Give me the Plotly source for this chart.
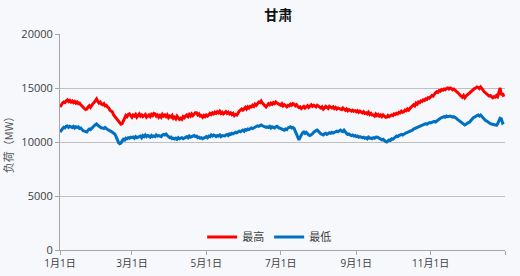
import plotly.graph_objects as go
import pandas as pd

start_date = "2023-01-01"

max_load = [
    13240, 13450, 13600, 13700, 13650, 13800, 13900, 13750, 13850, 13700,
    13800, 13650, 13750, 13600, 13700, 13550, 13600, 13450, 13300, 13200,
    13100, 13000, 13050, 13250, 13350, 13200, 13400, 13550, 13650, 13800,
    13980, 13750, 13600, 13700, 13500, 13450, 13550, 13350, 13400, 13240,
    13150, 12950, 12850, 12780, 12500, 12350, 12200, 12000, 11850, 11760,
    11650, 11700, 11950, 12300, 12450, 12350, 12550, 12600, 12450, 12300,
    12500, 12400, 12550, 12300, 12450, 12600, 12400, 12500, 12350, 12450,
    12550, 12300, 12400, 12500, 12350, 12550, 12450, 12650, 12600, 12400,
    12500, 12300, 12450, 12300, 12550, 12400, 12500, 12350, 12500, 12250,
    12400, 12300, 12450, 12200, 12300, 12150, 12400, 12250, 12100, 12200,
    12100, 12350, 12250, 12400, 12500, 12350, 12550, 12400, 12600, 12450,
    12550, 12700, 12700, 12500, 12600, 12400, 12450, 12300, 12450, 12350,
    12500, 12400, 12500, 12650, 12550, 12700, 12600, 12750, 12650, 12800,
    12700, 12850, 12650, 12750, 12600, 12700, 12800, 12650, 12750, 12600,
    12700, 12550, 12650, 12450, 12550, 12500, 12700, 12850, 12950, 13050,
    12950, 13100, 13200, 13050, 13250, 13150, 13300, 13250, 13400, 13300,
    13500, 13400, 13600, 13700, 13650, 13800, 13600, 13450, 13350, 13250,
    13400, 13550, 13450, 13600, 13500, 13650, 13550, 13700, 13600, 13550,
    13450, 13400, 13550, 13350, 13450, 13300, 13250, 13400, 13350, 13500,
    13400, 13550, 13500, 13350, 13450, 13300, 13200, 13250, 13100, 13200,
    13300, 13150, 13250, 13350, 13200, 13300, 13450, 13300, 13400, 13350,
    13250, 13400, 13300, 13200, 13150, 13250, 13050, 13150, 13300, 13200,
    13100, 13300, 13250, 13150, 13250, 13100, 13200, 13050, 13150, 13100,
    13100, 13000, 13150, 13050, 12950, 13050, 12900, 13000, 12950, 12850,
    12950, 12850, 12900, 12800, 12900, 12750, 12850, 12800, 12700, 12800,
    12650, 12700, 12600, 12750, 12550, 12650, 12500, 12500, 12400, 12600,
    12450, 12550, 12400, 12500, 12350, 12500, 12400, 12300, 12300, 12450,
    12350, 12400, 12500, 12450, 12600, 12550, 12650, 12600, 12750, 12700,
    12850, 12750, 12800, 12950, 12900, 13050, 12950, 13100, 13200, 13350,
    13450, 13350, 13600, 13500, 13700, 13650, 13800, 13750, 13900, 13850,
    14000, 13950, 14100, 14050, 14200, 14300, 14250, 14450, 14550, 14650,
    14600, 14750, 14700, 14850, 14800, 14900, 14850, 14950, 15000, 14900,
    15000, 14950, 14850, 14900, 14800, 14750, 14600, 14500, 14350, 14250,
    14150, 14300, 14100, 14250, 14350, 14450, 14550, 14650, 14800, 14900,
    14950, 15000, 15100, 15050, 14950, 15100, 14900, 14800, 14650, 14550,
    14450, 14350, 14250, 14300, 14150, 14100, 14200, 14150, 14300, 14200,
    14600, 15000, 14350, 14500, 14200,
]

min_load = [
    10930, 11100, 11250, 11350, 11300, 11450, 11480, 11350, 11450, 11400,
    11350, 11450, 11300, 11400, 11350, 11400, 11250, 11300, 11150, 11050,
    11000, 10950, 10930, 11100, 11200, 11150, 11300, 11400, 11500, 11600,
    11670, 11550, 11450, 11400, 11300, 11300, 11250, 11350, 11200, 11150,
    11100, 11050, 11000, 10900, 10800, 10740, 10500, 10200, 9950, 9850,
    9900, 10100, 10250, 10190, 10350, 10300, 10400, 10350, 10450, 10400,
    10460, 10350, 10500, 10400, 10450, 10460, 10550, 10400, 10600, 10500,
    10650, 10500, 10600, 10550, 10450, 10600, 10500, 10560, 10500, 10650,
    10550, 10600, 10560, 10500, 10650, 10700, 10650, 10740, 10600, 10500,
    10400, 10450, 10300, 10350, 10280, 10350, 10250, 10400, 10300, 10350,
    10400, 10300, 10370, 10450, 10500, 10400, 10550, 10450, 10500, 10560,
    10600, 10500, 10550, 10400, 10450, 10350, 10400, 10300, 10370, 10450,
    10500, 10400, 10550, 10500, 10650, 10550, 10650, 10600, 10500, 10600,
    10550, 10650, 10500, 10600, 10550, 10560, 10650, 10700, 10600, 10750,
    10700, 10800, 10750, 10830, 10900, 10850, 10950, 11000, 10950, 11050,
    11100, 11000, 11150, 11100, 11200, 11150, 11250, 11300, 11250, 11300,
    11350, 11400, 11500, 11450, 11550, 11580, 11500, 11450, 11400, 11350,
    11400, 11350, 11450, 11300, 11400, 11350, 11300, 11400, 11450, 11350,
    11300, 11250, 11200, 11150, 11100, 11200, 11150, 11300, 11350, 11400,
    11300, 11350, 11250, 11000, 10700, 10400, 10200, 10450, 10700, 10850,
    10930, 10800, 10900, 10750, 10650, 10600, 10650, 10750, 10900, 11000,
    11050, 11100, 10950, 10850, 10750, 10700, 10650, 10750, 10800, 10700,
    10750, 10850, 10800, 10900, 10830, 10900, 10950, 11000, 10950, 11050,
    11100, 11000, 10950, 11100, 10900, 10800, 10700, 10750, 10650, 10600,
    10650, 10550, 10600, 10500, 10550, 10450, 10500, 10460, 10400, 10450,
    10350, 10400, 10300, 10450, 10350, 10370, 10300, 10400, 10350, 10450,
    10460, 10400, 10350, 10300, 10200, 10250, 10100, 10050, 10000, 10100,
    10190, 10150, 10300, 10250, 10400, 10460, 10550, 10500, 10600, 10650,
    10700, 10650, 10740, 10800, 10850, 10900, 10950, 10930, 11000, 11100,
    11200, 11250, 11300, 11350, 11450, 11500, 11550, 11600, 11580, 11650,
    11700, 11650, 11750, 11800, 11760, 11800, 11850, 11900, 11850, 11950,
    12000, 12100, 12200, 12250, 12300, 12350, 12300, 12400, 12350, 12400,
    12400, 12350, 12300, 12350, 12300, 12200, 12100, 12000, 11900, 11800,
    11700, 11600, 11580, 11650, 11750, 11800, 11850, 12000, 12100, 12250,
    12300, 12400, 12450, 12500, 12400, 12500, 12350, 12200, 12100, 12000,
    11950, 11850, 11800, 11700, 11670, 11650, 11600, 11580, 11550, 11700,
    11900, 12200, 12150, 11760, 11850,
]

tick_dates = ["2023-01-01", "2023-03-01", "2023-05-01", "2023-07-01",
              "2023-09-01", "2023-11-01", "2024-01-01"]
tick_labels = ["1月1日", "3月1日", "5月1日", "7月1日", "9月1日", "11月1日", ""]
y_ticks = [0, 5000, 10000, 15000, 20000]
y_labels = ["0", "5000", "10000", "15000", "20000"]

dates = pd.date_range(start_date, periods=len(max_load), freq="D")

fig = go.Figure()
fig.add_trace(go.Scatter(x=dates, y=max_load, mode="lines", name="最高",
                         line=dict(color="#ff0000", width=3)))
fig.add_trace(go.Scatter(x=dates, y=min_load, mode="lines", name="最低",
                         line=dict(color="#0070c0", width=3)))

base_font = "Open Sans, Noto Sans CJK SC, sans-serif"
fig.update_layout(
    width=520, height=276,
    margin=dict(l=60, r=15, t=34, b=26),
    paper_bgcolor="#f6f8fb",
    plot_bgcolor="#f6f8fb",
    font=dict(family=base_font, size=10, color="#404040"),
    title=dict(text="<b>甘肃</b>", x=0.535, xref="container", xanchor="center",
               y=0.945, yref="container", yanchor="middle",
               font=dict(family="Noto Sans CJK SC", size=14, color="#111111")),
    showlegend=True,
    legend=dict(orientation="h", x=0.47, xanchor="center", y=0.06, yanchor="middle",
                bgcolor="rgba(0,0,0,0)",
                font=dict(family="Noto Sans CJK SC", size=11, color="#404040"),
                itemwidth=30, entrywidth=22, entrywidthmode="pixels"),
    xaxis=dict(range=["2023-01-01", "2024-01-01"], tickvals=tick_dates, ticktext=tick_labels,
               showgrid=False, showline=True, linecolor="#a6a6a6", linewidth=1,
               ticks="outside", ticklen=4, tickcolor="#a6a6a6", zeroline=False,
               automargin=False, tickfont=dict(size=10, color="#404040")),
    yaxis=dict(range=[0, 20000], tickvals=y_ticks, ticktext=y_labels, showgrid=True,
               gridcolor="#bfbfbf", gridwidth=1, showline=True, linecolor="#a6a6a6",
               linewidth=1, ticks="outside", ticklen=4, tickcolor="#a6a6a6", zeroline=False,
               automargin=False,
               title=dict(text="负荷（MW）", standoff=6,
                          font=dict(family="Noto Sans CJK SC", size=11, color="#595959")),
               tickfont=dict(size=11, color="#404040")),
)

fig.write_html("out.html")
